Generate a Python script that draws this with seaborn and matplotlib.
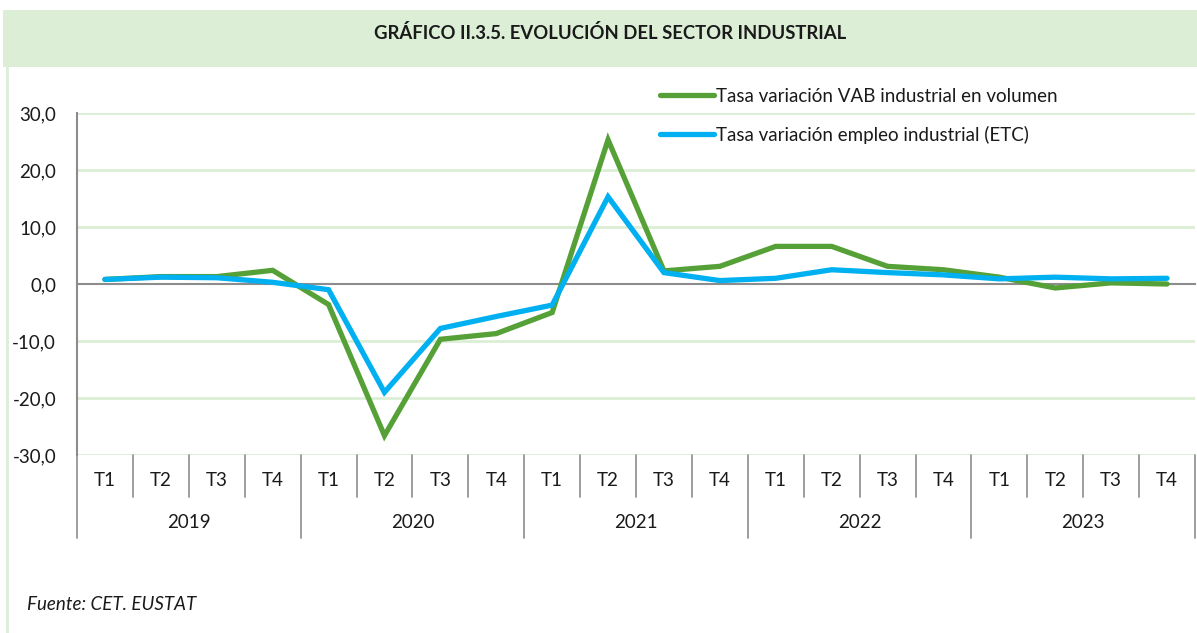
import matplotlib
matplotlib.use("Agg")
import pandas as pd
import matplotlib.pyplot as plt
import matplotlib.transforms as mtransforms
from matplotlib.patches import Rectangle
from matplotlib.lines import Line2D
import seaborn as sns

# Data
years = ['2019', '2020', '2021', '2022', '2023']
quarters = ['T1', 'T2', 'T3', 'T4']
vab = [0.8, 1.3, 1.3, 2.4,
       -3.6, -26.6, -9.7, -8.7,
       -5.0, 25.3, 2.3, 3.1,
       6.6, 6.6, 3.1, 2.5,
       1.2, -0.7, 0.2, 0.0]
empleo = [0.8, 1.2, 1.1, 0.3,
          -1.0, -19.0, -7.8, -5.7,
          -3.7, 15.3, 2.0, 0.6,
          1.0, 2.5, 2.0, 1.6,
          0.9, 1.2, 0.9, 1.0]
serie_vab = 'Tasa variación VAB industrial en volumen'
serie_emp = 'Tasa variación empleo industrial (ETC)'

green = '#56A137'
blue = '#00B0F0'
grid_green = '#DCEFD6'
axis_grey = '#8C8C8C'
txt = '#1a1a1a'
fs = 13.5

n = len(vab)
df = pd.DataFrame({
    'pos': list(range(n)) * 2,
    'valor': vab + empleo,
    'serie': [serie_vab] * n + [serie_emp] * n,
})

sns.set_style('white')
plt.rcParams['font.family'] = ['Lato', 'DejaVu Sans']

W, H = 1197, 633
fig = plt.figure(figsize=(W / 100, H / 100), dpi=100)

# title banner and left border
fig.patches.append(Rectangle((3 / W, 1 - 67 / H), 1, 57 / H, transform=fig.transFigure,
                             facecolor=grid_green, edgecolor='none', zorder=0))
fig.lines.append(Line2D([7 / W, 7 / W], [0, 1 - 67 / H], transform=fig.transFigure,
                        color=grid_green, lw=2))
fig.text(610 / W, 1 - 33 / H, 'GRÁFICO II.3.5. EVOLUCIÓN DEL SECTOR INDUSTRIAL',
         ha='center', va='center', fontsize=13.3, fontweight='bold', color=txt)

left, right = 77 / W, 1195 / W
top, bottom = 1 - 113 / H, 1 - 455 / H
ax = fig.add_axes([left, bottom, right - left, top - bottom])

sns.lineplot(data=df, x='pos', y='valor', hue='serie',
             palette={serie_vab: green, serie_emp: blue},
             linewidth=3.8, ax=ax, legend=False, zorder=3)
for l in ax.lines:
    l.set_solid_capstyle('round')
    l.set_solid_joinstyle('miter')

ax.set_xlim(-0.5, n - 0.5)
ax.set_ylim(-30, 30)
ax.set_yticks([-30, -20, -10, 0, 10, 20, 30])
ax.set_yticklabels([f'{v:.1f}'.replace('.', ',') for v in ax.get_yticks()], fontsize=fs)
for v in [-30, -20, -10, 10, 20, 30]:
    ax.axhline(v, color=grid_green, lw=2, zorder=1)

ax.set_xlabel('')
ax.set_ylabel('')
for s in ['top', 'right']:
    ax.spines[s].set_visible(False)
ax.spines['bottom'].set_position(('data', 0))
ax.spines['bottom'].set_color(axis_grey)
ax.spines['bottom'].set_linewidth(1.5)
ax.spines['left'].set_color(axis_grey)
ax.spines['left'].set_linewidth(1.5)
ax.spines['bottom'].set_zorder(2)
ax.set_xticks([i + 0.5 for i in range(n)])
ax.set_xticklabels([])
ax.tick_params(axis='x', direction='out', length=5, width=1.5, color=axis_grey)
ax.tick_params(axis='y', direction='out', length=5, width=1.5, color=axis_grey,
               pad=10, labelcolor=txt)

# category labels below the plot
trans = mtransforms.blended_transform_factory(ax.transData, ax.transAxes)
ph = (455 - 113)
for i in range(n):
    ax.text(i, -26 / ph, quarters[i % 4], transform=trans, ha='center', va='center',
            fontsize=fs, color=txt)
for i in range(n + 1):
    depth = -83 / ph if i % 4 == 0 else -42 / ph
    ax.plot([i - 0.5, i - 0.5], [0, depth], transform=trans, color=axis_grey,
            lw=1.2, clip_on=False)
for k, y in enumerate(years):
    ax.text(4 * k + 1.5, -67 / ph, y, transform=trans, ha='center', va='center',
            fontsize=fs, color=txt)

# legend
handles = [Line2D([], [], color=green, lw=3.8, solid_capstyle='round'),
           Line2D([], [], color=blue, lw=3.8, solid_capstyle='round')]
leg = fig.legend(handles, [serie_vab, serie_emp], loc='upper left',
                 bbox_to_anchor=(660 / W, 1 - 88 / H), frameon=False,
                 fontsize=fs, handlelength=2.9, handletextpad=0.1,
                 labelspacing=1.1, borderaxespad=0, borderpad=0)
for t in leg.get_texts():
    t.set_color(txt)

fig.text(27 / W, 1 - 605 / H, 'Fuente: CET. EUSTAT', fontsize=13.5, style='italic',
         ha='left', va='center', color=txt)

fig.savefig('out.png', dpi=100)
